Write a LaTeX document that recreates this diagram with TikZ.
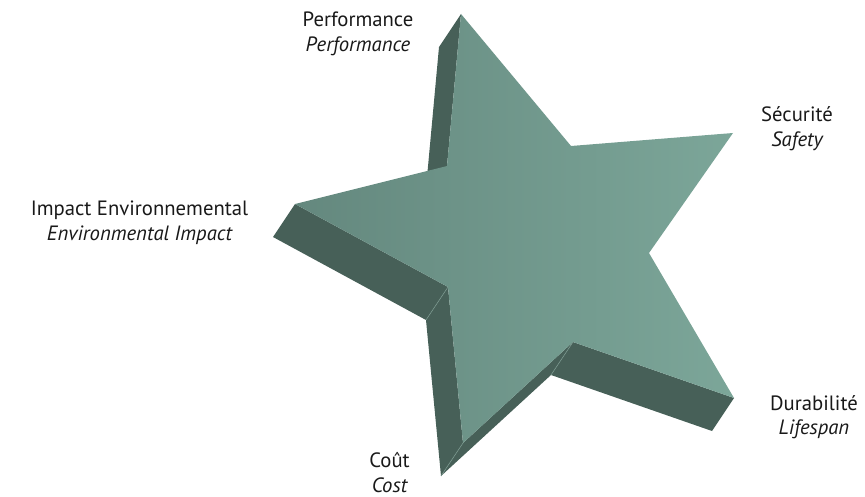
\documentclass[tikz,border=0pt]{standalone}
\usepackage{fontspec}
\setmainfont{PT Sans}
\usetikzlibrary{calc}

\definecolor{sidegreen}{RGB}{71,96,88}
\definecolor{seamgreen}{RGB}{120,150,140}
\definecolor{faceleft}{RGB}{100,136,126}
\definecolor{faceright}{RGB}{124,166,153}
\definecolor{labelgray}{RGB}{25,25,25}

\begin{document}
\begin{tikzpicture}[x=1pt,y=-1pt,
  side/.style={fill=sidegreen},
  seam/.style={draw=seamgreen, line width=0.6pt},
  lbl/.style={anchor=base, inner sep=0pt, text=labelgray,
    font=\fontsize{20.7}{25}\selectfont}]
\useasboundingbox (0,0) rectangle (865,497);

% outline of the star's front face
\coordinate (T)  at (461,14);
\coordinate (A)  at (571,146);
\coordinate (R)  at (733,133);
\coordinate (B)  at (649,253);
\coordinate (DR) at (734,398);
\coordinate (C)  at (573,342);
\coordinate (Bt) at (463,443);
\coordinate (D)  at (448,287);
\coordinate (L)  at (295,204);
\coordinate (E)  at (447,166);

% rear outline: the same star pushed back along the extrusion
\foreach \p in {T,A,R,B,DR,C,Bt,D,L,E}
  \coordinate (b\p) at ($(\p)+(-22,33)$);

% side walls facing the viewer (lower-left sides of the arms)
\foreach \p/\q in {DR/C,C/Bt,Bt/D,D/L,E/T}
  \fill[side] (\p) -- (\q) -- (b\q) -- (b\p) -- cycle;

% light edges where two visible walls meet
\draw[seam] (D) -- (bD);
\draw[seam] (C) -- (bC);
\draw[seam] (Bt) -- (bBt);

% front face
\shade[left color=faceleft, right color=faceright]
  (T) -- (A) -- (R) -- (B) -- (DR) -- (C) -- (Bt) -- (D) -- (L) -- (E) -- cycle;

% labels at the five points
\node[lbl] (perf-fr) at (358,27) {Performance};
\node[lbl] (perf-en) at (358,52) {\itshape Performance};
\node[lbl] (secu-fr) at (797,122) {Sécurité};
\node[lbl] (secu-en) at (797,147) {\itshape Safety};
\node[lbl] (envi-fr) at (139.5,216) {Impact Environnemental};
\node[lbl] (envi-en) at (139.5,241) {\itshape Environmental Impact};
\node[lbl] (dura-fr) at (814,410) {Durabilité};
\node[lbl] (dura-en) at (814,434) {\itshape Lifespan};
\node[lbl] (cout-fr) at (389.5,467) {Coût};
\node[lbl] (cout-en) at (389.5,492) {\itshape Cost};
\end{tikzpicture}
\end{document}
